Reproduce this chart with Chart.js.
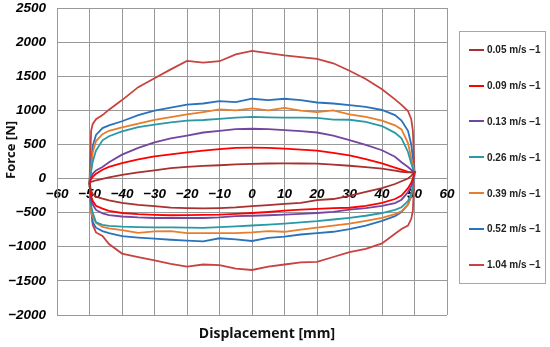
<!DOCTYPE html>
<html>
<head>
<meta charset="utf-8">
<script src="https://cdn.jsdelivr.net/npm/chart.js@4/dist/chart.umd.min.js"></script>
<style>
  body { margin:0; background:#fff; }
  #wrap { position:relative; width:550px; height:347px; }
  #ytitle { position:absolute; left:10px; top:150px; transform:translate(-50%,-50%) rotate(-90deg); font:bold 13px 'Open Sans'; white-space:nowrap; color:#111; }
  #xtitle { position:absolute; left:267px; top:332px; transform:translate(-50%,-50%); font:bold 14px 'Open Sans'; white-space:nowrap; color:#111; }
  #legend { position:absolute; left:459px; top:31px; width:85px; height:251px; border:1px solid #a6a6a6; box-sizing:content-box; }
  .item { height:35.8px; display:flex; align-items:center; font:bold 10px 'Liberation Sans'; color:#222; white-space:nowrap; }
  .swatch { width:15px; height:2px; margin-left:9px; margin-right:3px; }
</style>
</head>
<body>
<div id="wrap">
  <canvas id="chart" width="550" height="347"></canvas>
  <div id="ytitle">Force [N]</div>
  <div id="xtitle">Displacement [mm]</div>
  <div id="legend"></div>
</div>
<script>
// displacement samples (mm), loading branch goes -50 -> 50, unloading comes back
const disp = [-50, -49.5, -49, -48, -46, -44, -40, -35, -30, -25, -20, -15, -10, -5, 0, 5, 10, 15, 20, 25, 30, 35, 40, 44, 46, 48, 49, 49.5, 50];

const speedLabels = ['0.05 m/s \u22121', '0.09 m/s \u22121', '0.13 m/s \u22121', '0.26 m/s \u22121', '0.39 m/s \u22121', '0.52 m/s \u22121', '1.04 m/s \u22121'];
const speedColors = ['#A8302F', '#FF0000', '#7446A0', '#2A99A7', '#E87D2C', '#2A72BD', '#C8423F'];

// upper branch force (N) at each disp value
const up005 = [-60, -50, -40, -25, -5, 18, 55, 90, 120, 152, 170, 185, 195, 207, 215, 221, 222, 221, 220, 205, 188, 168, 145, 115, 100, 92, 90, 90, 90];
const up009 = [-60, -10, 25, 70, 130, 170, 225, 280, 325, 355, 385, 410, 430, 450, 452, 450, 440, 425, 410, 375, 340, 285, 222, 160, 130, 98, 92, 90, 90];
const up013 = [-60, 20, 70, 120, 170, 240, 350, 450, 530, 590, 630, 675, 700, 725, 730, 725, 710, 695, 675, 630, 565, 495, 415, 320, 240, 170, 130, 110, 90];
const up026 = [-60, 100, 250, 410, 560, 620, 690, 755, 790, 825, 850, 858, 875, 893, 905, 898, 892, 892, 890, 865, 862, 830, 770, 670, 590, 390, 220, 150, 90];
const up039 = [-60, 150, 380, 550, 650, 700, 750, 805, 860, 900, 940, 975, 1015, 1000, 1030, 1000, 1035, 995, 975, 1000, 940, 905, 850, 780, 720, 520, 300, 200, 90];
const up052 = [-60, 250, 480, 640, 740, 780, 840, 930, 995, 1040, 1085, 1100, 1135, 1120, 1170, 1150, 1170, 1150, 1115, 1100, 1075, 1050, 1005, 930, 850, 700, 500, 300, 90];
const up104 = [-60, 700, 800, 870, 930, 1010, 1150, 1340, 1470, 1600, 1725, 1700, 1720, 1820, 1870, 1840, 1805, 1780, 1755, 1690, 1580, 1460, 1310, 1160, 1080, 990, 870, 700, 90];

// lower branch force (N) at each disp value
const low005 = [-60, -180, -230, -265, -295, -320, -355, -385, -405, -425, -433, -437, -432, -422, -405, -390, -370, -355, -315, -300, -255, -195, -140, -80, -40, 0, 40, 65, 90];
const low009 = [-60, -260, -330, -400, -440, -475, -505, -522, -532, -538, -537, -532, -528, -518, -505, -490, -470, -455, -445, -432, -428, -400, -355, -300, -250, -140, -60, 0, 90];
const low013 = [-60, -320, -380, -460, -510, -535, -556, -570, -578, -578, -578, -578, -570, -552, -545, -538, -528, -518, -505, -488, -455, -432, -400, -360, -310, -200, -110, -40, 90];
const low026 = [-60, -400, -500, -640, -680, -695, -705, -712, -716, -716, -718, -722, -712, -700, -688, -676, -660, -642, -625, -600, -575, -545, -505, -460, -420, -330, -220, -130, 90];
const low039 = [-60, -480, -560, -650, -710, -730, -755, -795, -775, -770, -800, -800, -800, -800, -790, -770, -780, -750, -720, -690, -660, -620, -575, -520, -480, -380, -240, -130, 90];
const low052 = [-60, -450, -640, -720, -770, -800, -845, -865, -880, -897, -910, -920, -875, -890, -915, -870, -850, -820, -800, -780, -740, -690, -620, -550, -490, -380, -260, -120, 90];
const low104 = [-60, -450, -680, -790, -840, -960, -1100, -1150, -1200, -1250, -1290, -1260, -1270, -1320, -1340, -1290, -1260, -1230, -1220, -1150, -1080, -1030, -950, -810, -740, -690, -590, -470, 90];

const upper = [up005, up009, up013, up026, up039, up052, up104];
const lower = [low005, low009, low013, low026, low039, low052, low104];

function loop(up, low) {
  const pts = disp.map((x, i) => ({x: x, y: up[i]}));
  for (let i = disp.length - 1; i >= 0; i--) pts.push({x: disp[i], y: low[i]});
  return pts;
}

const datasets = speedLabels.map((lab, k) => ({
  label: lab,
  data: loop(upper[k], lower[k]),
  borderColor: speedColors[k],
  borderWidth: 1.8,
  pointRadius: 0,
  showLine: true,
  fill: false,
  tension: 0
}));

const minus = v => String(v).replace('-', '\u2212');
const tickFont = {family: "Arial, 'Liberation Sans'", size: 13.5, weight: 'bold', style: 'italic'};

new Chart(document.getElementById('chart'), {
  type: 'scatter',
  data: { datasets: datasets },
  options: {
    responsive: false,
    animation: false,
    devicePixelRatio: 1,
    layout: { padding: {top: 0, right: 103, bottom: 32, left: 0} },
    plugins: { legend: {display: false}, tooltip: {enabled: false} },
    scales: {
      x: {
        type: 'linear', min: -60, max: 60,
        position: {y: 0},
        grid: { color: '#999', drawTicks: false },
        border: { color: '#999' },
        ticks: { stepSize: 10, padding: 8, color: '#000', font: tickFont, callback: minus, maxRotation: 0 }
      },
      y: {
        type: 'linear', min: -2000, max: 2500,
        grid: { color: '#999', drawTicks: false },
        border: { color: '#999' },
        ticks: { stepSize: 500, padding: 11, color: '#000', font: tickFont, callback: minus },
        afterFit: s => { s.width = 57; s.paddingTop = 8; s.paddingBottom = 0; }
      }
    }
  }
});

// legend box
const legend = document.getElementById('legend');
speedLabels.forEach((lab, k) => {
  const row = document.createElement('div');
  row.className = 'item';
  const sw = document.createElement('span');
  sw.className = 'swatch';
  sw.style.background = speedColors[k];
  row.appendChild(sw);
  row.appendChild(document.createTextNode(lab));
  legend.appendChild(row);
});
</script>
</body>
</html>
